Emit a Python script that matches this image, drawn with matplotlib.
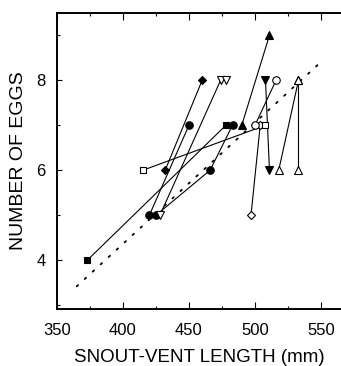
import matplotlib
matplotlib.use("Agg")

import matplotlib.pyplot as plt
from matplotlib.ticker import MultipleLocator

plt.rcParams["font.family"] = ["Liberation Sans", "DejaVu Sans"]

# snout-vent length (mm) and egg counts, one pair (or trio) per female
fill_circle_a_svl = [420, 450]
fill_circle_a_eggs = [5, 7]
fill_circle_b_svl = [425, 466, 483]
fill_circle_b_eggs = [5, 6, 7]
fill_square_svl = [373, 478]
fill_square_eggs = [4, 7]
fill_diamond_svl = [432, 460]
fill_diamond_eggs = [6, 8]
fill_tri_up_svl = [490, 511]
fill_tri_up_eggs = [7, 9]
fill_tri_down_svl = [508, 511]
fill_tri_down_eggs = [8, 6]
open_tri_down_svl = [428, 474]
open_tri_down_eggs = [5, 8]
open_tri_down_extra_svl = [478]
open_tri_down_extra_eggs = [8]
open_square_svl = [415, 508]
open_square_eggs = [6, 7]
open_circle_svl = [500, 516]
open_circle_eggs = [7, 8]
open_diamond_svl = [497, 504]
open_diamond_eggs = [5, 7]
open_tri_up_a_svl = [518, 533]
open_tri_up_a_eggs = [6, 8]
open_tri_up_b_svl = [533, 533]
open_tri_up_b_eggs = [6, 8]

# regression line (dotted)
fit_svl = [365, 549]
fit_eggs = [3.42, 8.38]

series = [
    (fill_square_svl, fill_square_eggs, "s", True, 4.8),
    (fill_circle_a_svl, fill_circle_a_eggs, "o", True, 5.4),
    (fill_circle_b_svl, fill_circle_b_eggs, "o", True, 5.4),
    (fill_diamond_svl, fill_diamond_eggs, "D", True, 4.4),
    (fill_tri_up_svl, fill_tri_up_eggs, "^", True, 5.4),
    (fill_tri_down_svl, fill_tri_down_eggs, "v", True, 5.4),
    (open_tri_down_svl, open_tri_down_eggs, "v", False, 5.4),
    (open_tri_down_extra_svl, open_tri_down_extra_eggs, "v", False, 5.4),
    (open_diamond_svl, open_diamond_eggs, "D", False, 4.4),
    (open_circle_svl, open_circle_eggs, "o", False, 5.4),
    (open_square_svl, open_square_eggs, "s", False, 4.8),
    (open_tri_up_a_svl, open_tri_up_a_eggs, "^", False, 5.4),
    (open_tri_up_b_svl, open_tri_up_b_eggs, "^", False, 5.4),
]

fig = plt.figure(figsize=(3.41, 3.66), dpi=100)
ax = fig.add_axes([0.167, 0.155, 0.833, 0.81])

ax.plot(fit_svl, fit_eggs, color="black", linestyle=(0, (1, 5)),
        linewidth=1.3, dash_capstyle="round", zorder=1)

# connecting lines first, markers on top
for xs, ys, m, filled, ms in series:
    ax.plot(xs, ys, color="black", linewidth=0.8, zorder=2)
for xs, ys, m, filled, ms in series:
    ax.plot(xs, ys, linestyle="none", marker=m, markersize=ms,
            markerfacecolor="black" if filled else "white",
            markeredgecolor="black", markeredgewidth=0.8, zorder=3)

ax.set_xlim(350, 565.2)
ax.set_ylim(2.91, 9.5)

ax.xaxis.set_major_locator(MultipleLocator(50))
ax.xaxis.set_minor_locator(MultipleLocator(25))
ax.yaxis.set_major_locator(MultipleLocator(2))
ax.yaxis.set_minor_locator(MultipleLocator(1))

ax.tick_params(axis="both", which="both", direction="in", top=True,
               right=False, width=0.8)
ax.tick_params(axis="x", which="major", length=5, pad=10, labelsize=12)
ax.tick_params(axis="x", which="minor", length=2.5)
ax.tick_params(axis="y", which="major", length=3.5, pad=8, labelsize=12)
ax.tick_params(axis="y", which="minor", length=2.5)

ax.spines["right"].set_visible(False)
for s in ["left", "top", "bottom"]:
    ax.spines[s].set_linewidth(1.4)

ax.set_xlabel("SNOUT-VENT LENGTH (mm)", fontsize=13.5, labelpad=8)
ax.set_ylabel("NUMBER OF EGGS", fontsize=14, labelpad=7)

fig.savefig("out.png", dpi=100)
